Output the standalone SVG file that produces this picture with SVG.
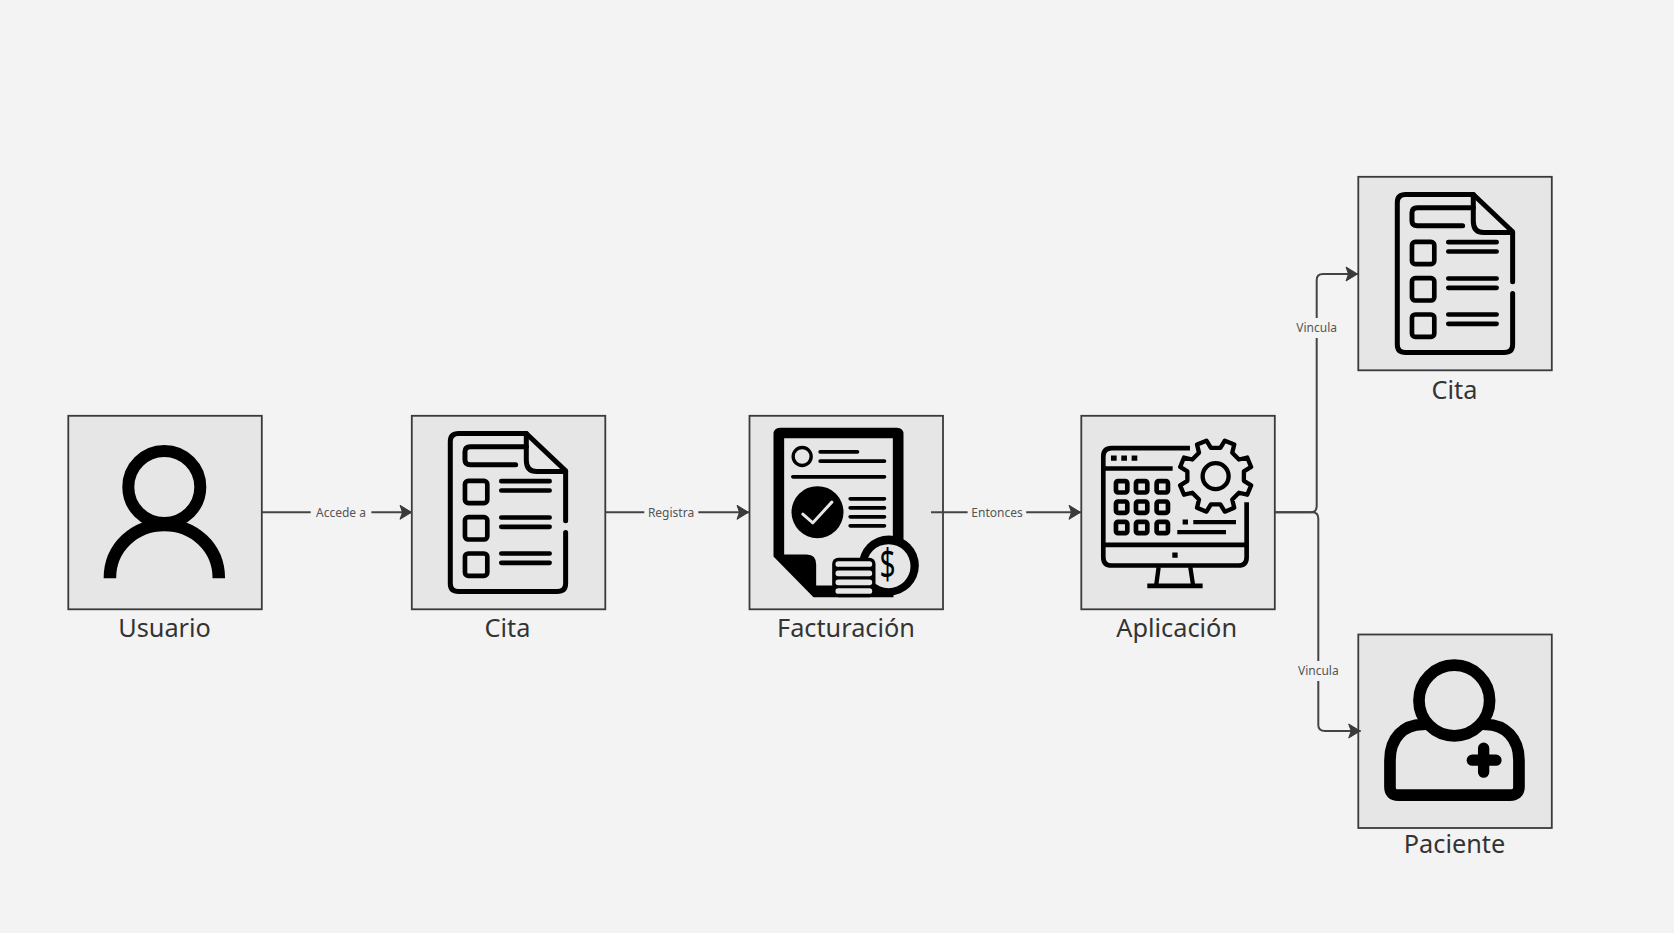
<svg xmlns="http://www.w3.org/2000/svg" width="1674" height="933" viewBox="0 0 1674 933">
<style>
.box{fill:#e6e6e6;stroke:#3a3a3a;stroke-width:1.8}
.name{font-family:"Noto Sans","Open Sans",sans-serif;font-size:25.3px;fill:#333;text-anchor:middle}
.lab{font-family:"Noto Sans","Open Sans",sans-serif;font-size:12px;fill:#555;text-anchor:middle}
.edge{fill:none;stroke:#444;stroke-width:2;marker-end:url(#arrow)}
.gap{fill:#f3f3f3}
.k{fill:none;stroke:#000;stroke-linecap:round;stroke-linejoin:round}
</style>
<defs>
<marker id="arrow" markerUnits="userSpaceOnUse" markerWidth="15" markerHeight="18" refX="13" refY="8" orient="auto"><path d="M1,1 L12.5,8 L1,15 L3.5,8 Z" fill="#3a3a3a" stroke="#3a3a3a" stroke-width="1" stroke-linejoin="round"/></marker>
<g id="doc" transform="scale(0.33333) translate(-55,-50)">
<path class="k" stroke-width="15" d="M518,400V553Q518,577 492,577H197Q172,577 172,553V127Q172,103 197,103H400L518,215V365"/>
<path class="k" stroke-width="15" d="M400,103V183Q400,217 432,217H518"/>
<path class="k" stroke-width="15" d="M400,143H232Q216,143 216,158V182Q216,197 232,197H368"/>
<rect class="k" stroke-width="14" x="216" y="245" width="67" height="67" rx="10"/>
<rect class="k" stroke-width="14" x="216" y="354" width="67" height="67" rx="10"/>
<rect class="k" stroke-width="14" x="216" y="463" width="67" height="67" rx="10"/>
<path class="k" stroke-width="14" d="M325,246H470M325,274H470M325,355H470M325,383H470M325,463H470M325,491H470"/>
</g>
</defs>
<rect width="1674" height="933" fill="#f3f3f3"/>
<g id="node-usuario">
<rect class="box" x="68.3" y="415.8" width="193.5" height="193.5"/>
<circle class="k" cx="164.3" cy="487" r="36" stroke-width="12"/>
<path fill="none" stroke="#000" stroke-width="12.5" d="M109.9,578.3C109.9,547 135,525 164.3,525S218.8,547 218.8,578.3"/>
<text class="name" x="164.5" y="637">Usuario</text>
</g>
<g id="node-cita">
<rect class="box" x="411.8" y="415.8" width="193.5" height="193.5"/>
<use href="#doc" x="411.3" y="415.8"/>
<text class="name" x="507.5" y="637">Cita</text>
</g>
<g id="node-facturacion">
<rect class="box" x="749.5" y="415.8" width="193.5" height="193.5"/>
<g transform="translate(749.5,415.8) scale(0.33333) translate(-448,-46)">
<path d="M520,102Q520,82 540,82H890Q910,82 910,102V430H880V590H640L520,468Z" fill="#000"/>
<path d="M552,113H878V420L700,555H648V492Q648,462 620,462H552Z" fill="#e6e6e6"/>
<circle cx="866" cy="495" r="90" fill="#000"/>
<circle cx="865" cy="497" r="66" fill="#e6e6e6"/>
<rect x="696" y="472" width="130" height="118" rx="18" fill="#000"/>
<g fill="#e6e6e6"><rect x="706" y="482" width="110" height="17" rx="8"/><rect x="706" y="510" width="110" height="17" rx="8"/><rect x="706" y="537" width="110" height="17" rx="8"/><rect x="706" y="563" width="110" height="17" rx="8"/></g>
<circle cx="606" cy="168" r="27" fill="none" stroke="#000" stroke-width="10"/>
<path class="k" stroke-width="11" d="M660,154H772M660,182H853M578,229H853M750,295H853M750,322H853M750,349H853M750,376H853"/>
<circle cx="652" cy="335" r="78" fill="#000"/>
<path class="k" style="stroke:#e6e6e6" stroke-width="9" d="M608,341L638,367L695,305"/>
<text transform="translate(862,537) scale(0.78,1.18)" font-family="Noto Sans,sans-serif" font-size="108" text-anchor="middle" fill="#000">$</text>
</g>
<text class="name" x="846" y="637">Facturación</text>
</g>
<g id="node-aplicacion">
<rect class="box" x="1081.3" y="415.8" width="193.5" height="193.5"/>
<g transform="translate(1081.3,415.8) scale(0.33333) translate(-64,-46)">
<path class="k" style="stroke-linecap:butt" stroke-width="14" d="M390,143H155Q130,143 130,168V470Q130,495 155,495H535Q560,495 560,470V305M130,204H338M130,433H560M262,556H428"/>
<path class="k" style="stroke-linecap:butt" stroke-width="13" d="M296,500L289,552M391,500L399,552M400,365H528M352,395H498"/>
<path fill="#000" d="M153,165h17v16h-17zM184,165h17v16h-17zM215,165h17v16h-17zM368,357h16v15h-16zM337,456h16v16h-16z"/>
<g class="k" stroke-width="14">
<rect x="168" y="242" width="34" height="34" rx="6"/><rect x="228" y="242" width="34" height="34" rx="6"/><rect x="290" y="242" width="34" height="34" rx="6"/>
<rect x="168" y="303" width="34" height="34" rx="6"/><rect x="228" y="303" width="34" height="34" rx="6"/><rect x="290" y="303" width="34" height="34" rx="6"/>
<rect x="168" y="364" width="34" height="34" rx="6"/><rect x="228" y="364" width="34" height="34" rx="6"/><rect x="290" y="364" width="34" height="34" rx="6"/>
</g>
<g transform="translate(467,227)">
<circle class="k" r="39" stroke-width="13"/>
<path class="k" stroke-width="13" d="M84.8,14.2L106.5,27.5L94.8,55.8L70,49.9L49.9,70L55.8,94.8L27.5,106.5L14.2,84.8L-14.2,84.8L-27.5,106.5L-55.8,94.8L-49.9,70L-70,49.9L-94.8,55.8L-106.5,27.5L-84.8,14.2L-84.8,-14.2L-106.5,-27.5L-94.8,-55.8L-70,-49.9L-49.9,-70L-55.8,-94.8L-27.5,-106.5L-14.2,-84.8L14.2,-84.8L27.5,-106.5L55.8,-94.8L49.9,-70L70,-49.9L94.8,-55.8L106.5,-27.5L84.8,-14.2Z"/>
</g>
</g>
<text class="name" x="1176.7" y="637">Aplicación</text>
</g>
<g id="node-cita-2">
<rect class="box" x="1358.3" y="176.8" width="193.5" height="193.5"/>
<use href="#doc" x="1358.3" y="176.8"/>
<text class="name" x="1454.5" y="398.8">Cita</text>
</g>
<g id="node-paciente">
<rect class="box" x="1358.3" y="634.5" width="193.5" height="193.5"/>
<g transform="translate(1358.3,634.5) scale(0.33333) translate(-55,-43)">
<circle class="k" cx="343" cy="241" r="106" stroke-width="35"/>
<path class="k" stroke-width="35" d="M250,313C190,312 150,355 150,420V500Q150,525 175,525H510Q537,525 537,500V420C537,355 495,312 436,313"/>
<path class="k" stroke-width="34" d="M397,420H468M431,384V456"/>
</g>
<text class="name" x="1454.5" y="853">Paciente</text>
</g>
<g id="connectors">
<path class="edge" d="M262,512.3H412"/>
<path class="edge" d="M605.5,512.3H749"/>
<path class="edge" d="M931,512.3H1081"/>
<path class="edge" d="M1275,512.3H1311Q1316.7,512.3 1316.7,506V280Q1316.7,274 1323,274H1358"/>
<path class="edge" d="M1275,512.3H1312Q1318.3,512.3 1318.3,518.5V725Q1318.3,731 1325,731H1360.7"/>
<rect class="gap" x="310.7" y="503" width="60.7" height="18"/>
<text class="lab" x="341" y="516.6">Accede a</text>
<rect class="gap" x="644.3" y="503" width="54" height="18"/>
<text class="lab" x="671" y="516.6">Registra</text>
<rect class="gap" x="967.6" y="503" width="58.6" height="18"/>
<text class="lab" x="997" y="516.6">Entonces</text>
<rect class="gap" x="1292" y="318" width="50" height="20"/>
<text class="lab" x="1316.7" y="332">Vincula</text>
<rect class="gap" x="1294" y="661" width="50" height="20"/>
<text class="lab" x="1318.3" y="675">Vincula</text>
</g>
</svg>
